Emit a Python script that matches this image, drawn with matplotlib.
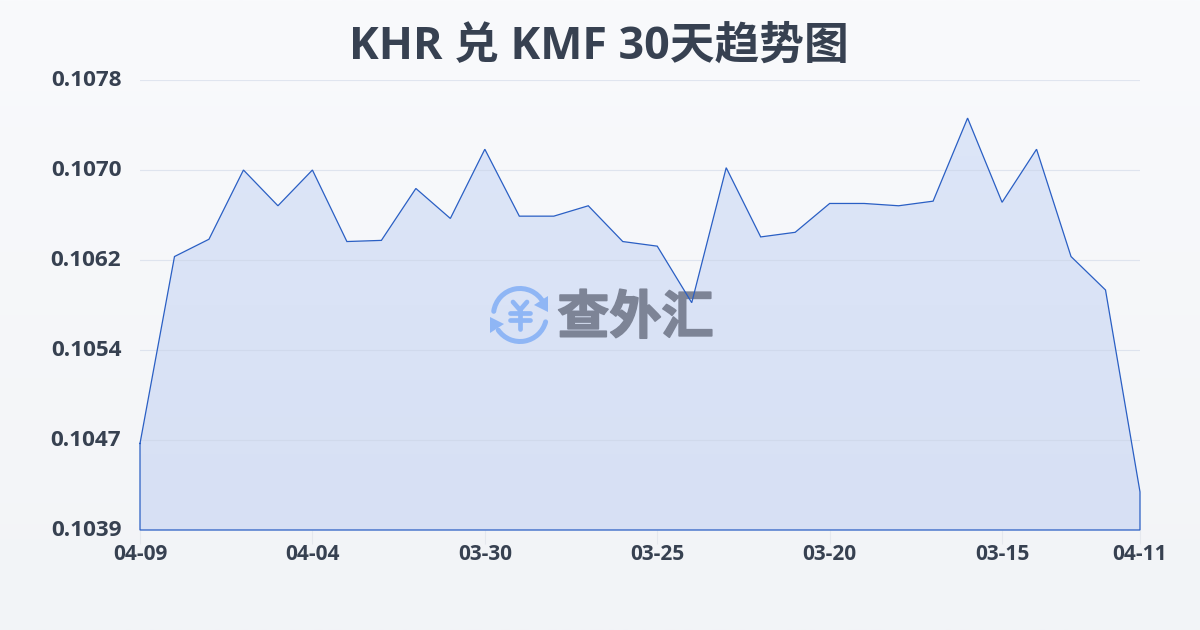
import numpy as np
import matplotlib
matplotlib.use('Agg')
import matplotlib.pyplot as plt
import matplotlib.patheffects as pe
from matplotlib.patches import Arc, Polygon
from matplotlib.transforms import ScaledTranslation

plt.rcParams['font.family'] = ['Open Sans', 'Noto Sans CJK SC', 'DejaVu Sans']

# values
rates = [0.10465, 0.10627, 0.10642, 0.10702, 0.10671, 0.10702, 0.10640, 0.10641, 0.10686, 0.10660,
         0.10720, 0.10662, 0.10662, 0.10671, 0.10640, 0.10636, 0.10587, 0.10704, 0.10644, 0.10648,
         0.10673, 0.10673, 0.10671, 0.10675, 0.10747, 0.10674, 0.10720, 0.10627, 0.10598, 0.10423]
date_ticks = [0, 5, 10, 15, 20, 25, 29]
date_labels = ['04-09', '04-04', '03-30', '03-25', '03-20', '03-15', '04-11']
rate_ticks = [0.1039, 0.1047, 0.1054, 0.1062, 0.1070, 0.1078]
rate_min = 0.1039
rate_max = 0.1078

W, H = 1200, 630
TEXT = '#374151'
LINE = '#2a5fc4'

fig = plt.figure(figsize=(W / 100, H / 100), dpi=100)

# page background gradient
bg = fig.add_axes([0, 0, 1, 1], zorder=0)
bg.imshow(np.linspace(0, 1, 256).reshape(-1, 1),
          cmap=matplotlib.colors.LinearSegmentedColormap.from_list('bg', ['#f9fafc', '#f2f4f7']),
          aspect='auto', extent=[0, 1, 0, 1])
bg.axis('off')

ax_rect = [140 / W, 1 - 530 / H, 1000 / W, 450 / H]
ax = fig.add_axes(ax_rect, zorder=1)
ax.patch.set_alpha(0)
x = np.arange(len(rates))

# filled area with a faint vertical gradient
grad = ax.imshow(np.linspace(0, 1, 256).reshape(-1, 1),
                 cmap=matplotlib.colors.LinearSegmentedColormap.from_list('fill', ['#dde6f8', '#d7e0f4']),
                 aspect='auto', extent=[0, len(rates) - 1, rate_min, rate_max], zorder=1)
poly = Polygon(list(zip(x, rates)) + [(x[-1], rate_min), (0, rate_min)], closed=True,
               transform=ax.transData, facecolor='none', edgecolor='none')
ax.add_patch(poly)
grad.set_clip_path(poly)

ax.set_xlim(0, len(rates) - 1)
ax.set_ylim(rate_min, rate_max)
ax.set_yticks(np.linspace(rate_min, rate_max, 6))
ax.set_yticklabels([f'{v:.4f}' for v in rate_ticks], fontsize=16.2, fontweight='bold', color=TEXT)
ax.set_xticks(date_ticks)
ax.set_xticklabels(date_labels, fontsize=15, fontweight='bold', color=TEXT)
ax.tick_params(axis='y', length=0, pad=13.5)
ax.tick_params(axis='x', length=10, width=0.8, color='#e5e8ee', pad=0)
ax.grid(axis='y', color='#c9d2e4', alpha=0.5, linewidth=0.8, zorder=2)
for s in ax.spines.values():
    s.set_visible(False)

# y labels sit a little above their gridlines
for lbl in ax.get_yticklabels():
    lbl.set_transform(lbl.get_transform() + ScaledTranslation(0, 2 / 100, fig.dpi_scale_trans))

# watermark in pixel coordinates, only visible inside the filled area
wm = fig.add_axes([0, 0, 1, 1], zorder=2)
wm.set_xlim(0, W)
wm.set_ylim(H, 0)
wm.axis('off')
LOGO = '#8fb6f5'
marks = [
    Arc((520, 315), 53, 53, theta1=188, theta2=330, color=LOGO, lw=3.6, capstyle='round'),
    Arc((520, 315), 53, 53, theta1=15, theta2=145, color=LOGO, lw=3.6, capstyle='round'),
    Polygon([[548, 296], [548, 312], [534, 305]], closed=True, color=LOGO, lw=0),
    Polygon([[490, 317], [490, 333], [504, 324]], closed=True, color=LOGO, lw=0),
]
for m in marks:
    wm.add_patch(m)
for xs, ys in [([513, 520, 527], [302, 310, 302]), ([510, 530], [313, 313]),
               ([510, 530], [320, 320]), ([520, 520], [310, 329])]:
    wm.plot(xs, ys, color=LOGO, lw=3.4, solid_capstyle='round')
wm_text = wm.text(635.5, 318, '查外汇', fontsize=37.5, fontweight='bold', color='#7d8496',
                  ha='center', va='center', family=['Noto Sans CJK SC'],
                  path_effects=[pe.withStroke(linewidth=1.2, foreground='#7d8496')])
wm_text.set_clip_path(poly)

# outline on top of the watermark
top = fig.add_axes(ax_rect, zorder=3)
top.patch.set_alpha(0)
top.axis('off')
top.set_xlim(0, len(rates) - 1)
top.set_ylim(rate_min, rate_max)
top.plot(list(x) + [x[-1], 0, 0], rates + [rate_min, rate_min, rates[0]], color=LINE, linewidth=0.9,
         clip_on=False, solid_joinstyle='miter')

fig.text(599 / W, 1 - 47.5 / H, 'KHR 兑 KMF 30天趋势图', fontsize=32.2, fontweight='bold',
         color=TEXT, ha='center', va='center')

fig.savefig('out.png', dpi=100)
